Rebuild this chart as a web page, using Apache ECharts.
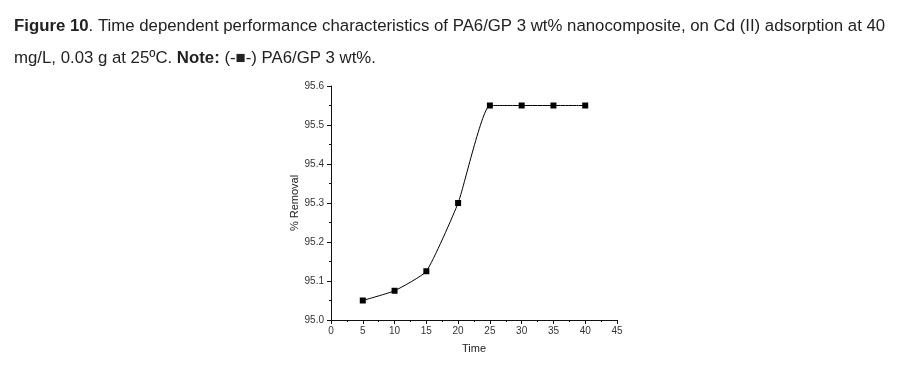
<!DOCTYPE html>
<html><head><meta charset="utf-8">
<script src="https://cdn.jsdelivr.net/npm/echarts@6/dist/echarts.min.js"></script>
<style>html,body{margin:0;padding:0;background:#fff}#c{width:924px;height:366px}</style>
</head><body><div id="c"></div>
<script>
const times = [5, 10, 15, 20, 25, 30, 35, 40];
const removal = [95.05, 95.075, 95.125, 95.30, 95.55, 95.55, 95.55, 95.55];
const xTicks = [0, 5, 10, 15, 20, 25, 30, 35, 40, 45];
const yTicks = [95.0, 95.1, 95.2, 95.3, 95.4, 95.5, 95.6];

const chart = echarts.init(document.getElementById('c'), null, {renderer: 'canvas'});
const tf = '"Liberation Sans", Arial, sans-serif';
chart.setOption({
  animation: false,
  backgroundColor: '#fff',
  title: [{
    left: 9, top: 5,
    text: '{b|Figure 10}{n|. Time dependent performance characteristics of PA6/GP 3 wt% nanocomposite, on Cd (II) adsorption at 40}\n{n|mg/L, 0.03 g at 25ºC. }{b|Note:}{n| (-■-) PA6/GP 3 wt%.}',
    textStyle: {
      fontWeight: 'normal',
      rich: {
        b: {fontFamily: tf, fontSize: 16.8, fontWeight: 'bold', color: '#222', lineHeight: 32},
        n: {fontFamily: tf, fontSize: 16.8, fontWeight: 'normal', color: '#222', lineHeight: 32}
      }
    }
  }],
  grid: {left: 331, right: 307, top: 86, bottom: 46},
  xAxis: {
    type: 'value', min: 0, max: 45, interval: 5,
    name: 'Time', nameLocation: 'middle', nameGap: 23,
    nameTextStyle: {fontFamily: tf, fontSize: 11, color: '#222'},
    axisLine: {lineStyle: {color: '#111', width: 1}},
    axisTick: {show: true, inside: false, length: 4, lineStyle: {color: '#111'}},
    minorTick: {show: true, splitNumber: 2, length: 2, lineStyle: {color: '#111'}},
    axisLabel: {fontFamily: tf, fontSize: 10, color: '#333', margin: 6},
    splitLine: {show: false}
  },
  yAxis: {
    type: 'value', min: 95.0, max: 95.6, interval: 0.1,
    name: '% Removal', nameLocation: 'middle', nameGap: 30, nameRotate: 90,
    nameTextStyle: {fontFamily: tf, fontSize: 11, color: '#222'},
    axisLine: {show: true, lineStyle: {color: '#111', width: 1}},
    axisTick: {show: true, inside: false, length: 4, lineStyle: {color: '#111'}},
    minorTick: {show: true, splitNumber: 2, length: 2, lineStyle: {color: '#111'}},
    axisLabel: {fontFamily: tf, fontSize: 10, color: '#333', margin: 7,
      formatter: v => v.toFixed(1)},
    splitLine: {show: false}
  },
  series: [{
    type: 'line',
    data: times.map((t, i) => [t, removal[i]]),
    smooth: 0.15,
    symbol: 'rect', symbolSize: 6,
    itemStyle: {color: '#000'},
    lineStyle: {color: '#000', width: 1}
  }]
});
</script></body></html>
